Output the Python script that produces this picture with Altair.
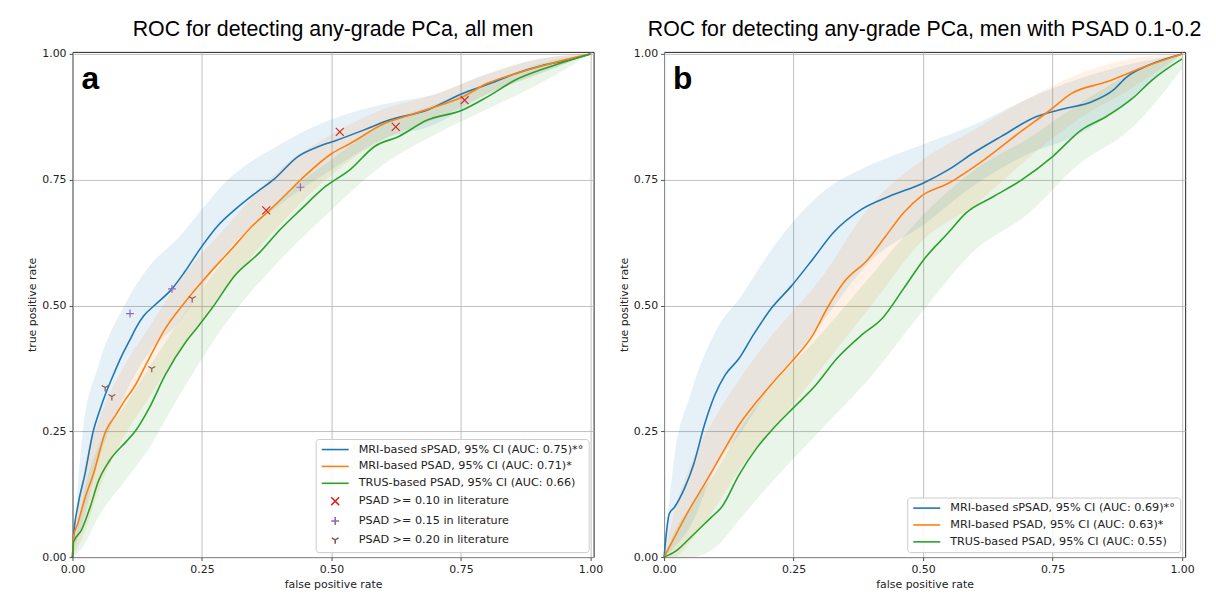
import altair as alt
import pandas as pd

# ---------------- labels & colours ----------------
LAB_A = [
    "MRI-based sPSAD, 95% CI (AUC: 0.75)*°",
    "MRI-based PSAD, 95% CI (AUC: 0.71)*",
    "TRUS-based PSAD, 95% CI (AUC: 0.66)",
    "PSAD >= 0.10 in literature",
    "PSAD >= 0.15 in literature",
    "PSAD >= 0.20 in literature",
]
LAB_B = [
    "MRI-based sPSAD, 95% CI (AUC: 0.69)*°",
    "MRI-based PSAD, 95% CI (AUC: 0.63)*",
    "TRUS-based PSAD, 95% CI (AUC: 0.55)",
]
BAND_KEYS = ["sPSAD band", "PSAD band", "TRUS band"]
LINE_COLORS = ["#1f77b4", "#ff7f0e", "#2ca02c"]
MARK_COLORS = ["#d62728", "#9467bd", "#8c564b"]
TITLE_A = "ROC for detecting any-grade PCa, all men"
TITLE_B = "ROC for detecting any-grade PCa, men with PSAD 0.1-0.2"
TICKS = [0, 0.25, 0.5, 0.75, 1.0]

# ---------------- panel a curves ----------------
a_s_fpr = [0, 0.002, 0.01, 0.024, 0.04, 0.052, 0.064, 0.078, 0.095, 0.11, 0.125, 0.138, 0.158, 0.192, 0.216,
           0.246, 0.28, 0.313, 0.354, 0.388, 0.435, 0.475, 0.509, 0.563, 0.61, 0.684, 0.752, 0.806, 0.853,
           0.907, 0.954, 1.0]
a_s_tpr = [0, 0.04, 0.10, 0.165, 0.25, 0.29, 0.325, 0.36, 0.40, 0.43, 0.46, 0.48, 0.50, 0.533, 0.566,
           0.612, 0.658, 0.69, 0.724, 0.75, 0.796, 0.816, 0.828, 0.849, 0.868, 0.888, 0.921, 0.941, 0.96,
           0.977, 0.987, 1.0]
a_m_fpr = [0, 0.002, 0.01, 0.025, 0.04, 0.064, 0.084, 0.1, 0.118, 0.148, 0.179, 0.212, 0.26, 0.307, 0.347,
           0.381, 0.421, 0.448, 0.502, 0.536, 0.603, 0.65, 0.718, 0.752, 0.8, 0.853, 0.92, 1.0]
a_m_tpr = [0, 0.04, 0.066, 0.12, 0.164, 0.25, 0.283, 0.31, 0.336, 0.395, 0.454, 0.5, 0.559, 0.612, 0.658,
           0.69, 0.73, 0.757, 0.803, 0.822, 0.862, 0.878, 0.901, 0.914, 0.941, 0.96, 0.98, 1.0]
a_t_fpr = [0, 0.002, 0.017, 0.034, 0.05, 0.071, 0.104, 0.121, 0.148, 0.179, 0.219, 0.239, 0.273, 0.313,
           0.361, 0.401, 0.441, 0.489, 0.536, 0.583, 0.63, 0.684, 0.752, 0.8, 0.853, 0.92, 1.0]
a_t_tpr = [0, 0.03, 0.053, 0.099, 0.151, 0.191, 0.23, 0.25, 0.296, 0.362, 0.428, 0.454, 0.5, 0.559,
           0.605, 0.651, 0.691, 0.737, 0.77, 0.816, 0.836, 0.868, 0.888, 0.914, 0.947, 0.974, 1.0]

# confidence bands panel a
band_fpr = [0, 0.02, 0.05, 0.1, 0.15, 0.2, 0.3, 0.4, 0.5, 0.6, 0.7, 0.8, 0.9, 1.0]
a_s_hi = [0, 0.25, 0.38, 0.50, 0.58, 0.63, 0.75, 0.82, 0.87, 0.90, 0.92, 0.96, 0.99, 1]
a_s_lo = [0, 0.07, 0.19, 0.32, 0.41, 0.46, 0.61, 0.70, 0.77, 0.83, 0.86, 0.92, 0.96, 1]
a_m_hi = [0, 0.16, 0.27, 0.38, 0.46, 0.54, 0.66, 0.77, 0.84, 0.89, 0.92, 0.96, 0.99, 1]
a_m_lo = [0, 0.04, 0.13, 0.24, 0.32, 0.40, 0.54, 0.66, 0.76, 0.83, 0.87, 0.92, 0.96, 1]
a_t_hi = [0, 0.12, 0.22, 0.30, 0.38, 0.46, 0.60, 0.71, 0.79, 0.86, 0.90, 0.94, 0.98, 1]
a_t_lo = [0, 0.02, 0.08, 0.15, 0.22, 0.31, 0.47, 0.59, 0.69, 0.78, 0.84, 0.89, 0.94, 1]

# literature operating points (panel a)
p10_fpr = [0.374, 0.516, 0.624, 0.757]
p10_tpr = [0.689, 0.845, 0.855, 0.908]
p15_fpr = [0.111, 0.192, 0.44]
p15_tpr = [0.484, 0.533, 0.735]
p20_fpr = [0.063, 0.076, 0.153, 0.231]
p20_tpr = [0.337, 0.319, 0.375, 0.514]

# ---------------- panel b curves ----------------
b_s_fpr = [0, 0.01, 0.02, 0.04, 0.057, 0.078, 0.098, 0.118, 0.145, 0.172, 0.206, 0.246, 0.287, 0.327,
           0.381, 0.435, 0.5, 0.549, 0.597, 0.651, 0.718, 0.772, 0.826, 0.867, 0.893, 0.934, 1.0]
b_s_tpr = [0, 0.086, 0.099, 0.138, 0.184, 0.263, 0.322, 0.362, 0.395, 0.441, 0.493, 0.539, 0.592, 0.645,
           0.691, 0.717, 0.743, 0.77, 0.803, 0.836, 0.875, 0.891, 0.905, 0.928, 0.954, 0.977, 1.0]
b_m_fpr = [0, 0.017, 0.044, 0.078, 0.111, 0.145, 0.179, 0.212, 0.246, 0.287, 0.314, 0.347, 0.394, 0.428,
           0.462, 0.496, 0.549, 0.617, 0.684, 0.745, 0.786, 0.853, 0.934, 1.0]
b_m_tpr = [0, 0.033, 0.086, 0.145, 0.204, 0.263, 0.309, 0.349, 0.388, 0.441, 0.493, 0.546, 0.592, 0.638,
           0.684, 0.717, 0.743, 0.789, 0.842, 0.888, 0.921, 0.944, 0.977, 1.0]
b_t_fpr = [0, 0.024, 0.051, 0.091, 0.111, 0.145, 0.179, 0.212, 0.249, 0.293, 0.334, 0.381, 0.421, 0.462,
           0.502, 0.549, 0.583, 0.637, 0.691, 0.75, 0.806, 0.853, 0.907, 0.941, 1.0]
b_t_tpr = [0, 0.013, 0.039, 0.079, 0.099, 0.164, 0.217, 0.257, 0.296, 0.342, 0.395, 0.441, 0.474, 0.533,
           0.592, 0.645, 0.684, 0.717, 0.75, 0.796, 0.849, 0.875, 0.914, 0.947, 0.99]

b_s_hi = [0, 0.20, 0.32, 0.45, 0.52, 0.60, 0.72, 0.78, 0.82, 0.86, 0.91, 0.95, 0.98, 1]
b_s_lo = [0, 0.02, 0.06, 0.18, 0.25, 0.33, 0.46, 0.59, 0.66, 0.74, 0.80, 0.84, 0.91, 1]
b_m_hi = [0, 0.09, 0.18, 0.28, 0.36, 0.43, 0.55, 0.70, 0.79, 0.85, 0.91, 0.96, 0.99, 1]
b_m_lo = [0, 0.0, 0.03, 0.10, 0.18, 0.24, 0.37, 0.50, 0.63, 0.70, 0.79, 0.87, 0.93, 1]
b_t_hi = [0, 0.05, 0.10, 0.17, 0.26, 0.33, 0.44, 0.56, 0.68, 0.77, 0.83, 0.90, 0.96, 1]
b_t_lo = [0, 0.0, 0.0, 0.02, 0.08, 0.14, 0.25, 0.36, 0.49, 0.61, 0.68, 0.78, 0.85, 0.97]

# ---------------- symbol shapes ----------------
SYM_SIZE = 64
LINE_PATH = "M-3.4,0L3.4,0"
X_PATH = "M-1,-1L1,1M-1,1L1,-1"
PLUS_PATH = "M-1,0L1,0M0,-1L0,1"
Y_PATH = "M0,0L0,1M0,0L-0.866,-0.5M0,0L0.866,-0.5"


def make_legend():
    return alt.Legend(
        orient="bottom-right",
        title=None,
        offset=5,
        padding=5,
        fillColor="rgba(255,255,255,0.85)",
        strokeColor="#cccccc",
        cornerRadius=3,
        labelFont="DejaVu Sans",
        labelFontSize=11.3,
        labelColor="#222222",
        labelLimit=400,
        symbolType=LINE_PATH,
        symbolSize=SYM_SIZE,
        symbolStrokeWidth=1.6,
        symbolOffset=9,
        labelOffset=18,
        rowPadding=5.0,
    )


def panel(lines, bands, labels, colors, points, title, letter):
    ldf = pd.concat([pd.DataFrame({"fpr": f, "tpr": t, "label": lab})
                     for (f, t), lab in zip(lines, labels)], ignore_index=True)
    bdf = pd.concat([pd.DataFrame({"fpr": band_fpr, "lo": lo, "hi": hi, "series": key})
                     for (lo, hi), key in zip(bands, BAND_KEYS)], ignore_index=True)
    xs = alt.Scale(domain=[0, 1.006], nice=False, zero=False)
    ys = alt.Scale(domain=[0, 1.004], nice=False, zero=False)
    xax = alt.Axis(values=TICKS, format=".2f", title="false positive rate", labelFlush=False)
    yax = alt.Axis(values=TICKS, format=".2f", title="true positive rate", labelFlush=False)
    all_labels = labels + [p[0] for p in points]
    cscale = alt.Scale(domain=all_labels, range=colors + MARK_COLORS[:len(points)])

    band = alt.Chart(bdf).mark_area(interpolate="monotone", opacity=0.11).encode(
        x=alt.X("fpr:Q", scale=xs, axis=xax),
        y=alt.Y("lo:Q", scale=ys, axis=yax),
        y2="hi:Q",
        fill=alt.Fill("series:N", scale=alt.Scale(domain=BAND_KEYS, range=colors), legend=None),
    )
    line = alt.Chart(ldf).mark_line(interpolate="monotone", strokeWidth=1.6).encode(
        x="fpr:Q", y="tpr:Q",
        color=alt.Color("label:N", scale=cscale, legend=make_legend()),
        order=alt.Order("fpr:Q"),
    )
    layers = [band, line]
    if points:
        pdf = pd.concat([pd.DataFrame({"fpr": f, "tpr": t, "label": lab})
                         for lab, f, t in points], ignore_index=True)
        sscale = alt.Scale(domain=all_labels,
                           range=[LINE_PATH] * len(labels) + [X_PATH, PLUS_PATH, Y_PATH])
        pts = alt.Chart(pdf).mark_point(filled=False, size=SYM_SIZE, strokeWidth=1.2, opacity=1).encode(
            x="fpr:Q", y="tpr:Q",
            color=alt.Color("label:N", scale=cscale, legend=make_legend()),
            shape=alt.Shape("label:N", scale=sscale, legend=make_legend()),
        )
        layers.append(pts)
    txt = alt.Chart(pd.DataFrame({"t": [letter]})).mark_text(
        font="Liberation Sans", fontSize=32, fontWeight="bold", align="left", baseline="alphabetic",
        color="black").encode(text="t:N", x=alt.value(9), y=alt.value(37))
    layers.append(txt)
    return alt.layer(*layers).properties(
        width=525, height=509,
        title=alt.TitleParams(title, font="Liberation Sans", fontSize=21.5, fontWeight="normal",
                              color="black", anchor="middle", offset=8),
    )


pa = panel(
    [(a_s_fpr, a_s_tpr), (a_m_fpr, a_m_tpr), (a_t_fpr, a_t_tpr)],
    [(a_s_lo, a_s_hi), (a_m_lo, a_m_hi), (a_t_lo, a_t_hi)],
    LAB_A[:3], LINE_COLORS,
    [(LAB_A[3], p10_fpr, p10_tpr), (LAB_A[4], p15_fpr, p15_tpr), (LAB_A[5], p20_fpr, p20_tpr)],
    TITLE_A, "a",
)
pb = panel(
    [(b_s_fpr, b_s_tpr), (b_m_fpr, b_m_tpr), (b_t_fpr, b_t_tpr)],
    [(b_s_lo, b_s_hi), (b_m_lo, b_m_hi), (b_t_lo, b_t_hi)],
    LAB_B, LINE_COLORS, [], TITLE_B, "b",
)

chart = alt.hconcat(pa, pb, spacing=71, bounds="flush").resolve_scale(
    color="independent", fill="independent", shape="independent"
).resolve_legend(
    color="independent", fill="independent", shape="independent"
).configure_axis(
    labelFont="DejaVu Sans", labelFontSize=11, labelColor="#222222",
    titleFont="DejaVu Sans", titleFontSize=11, titleFontWeight="normal", titleColor="#222222",
    gridColor="#b0b0b0", gridWidth=0.8, tickColor="#222222", tickSize=3.5, tickWidth=0.8,
    domain=False, labelPadding=3, titlePadding=4,
).configure_view(stroke="#222222", strokeWidth=1).properties(
    padding={"left": 18, "top": 8, "right": 5, "bottom": 5}, background="white"
)

chart.save("out.html", embed_options={"renderer": "svg", "actions": False})
